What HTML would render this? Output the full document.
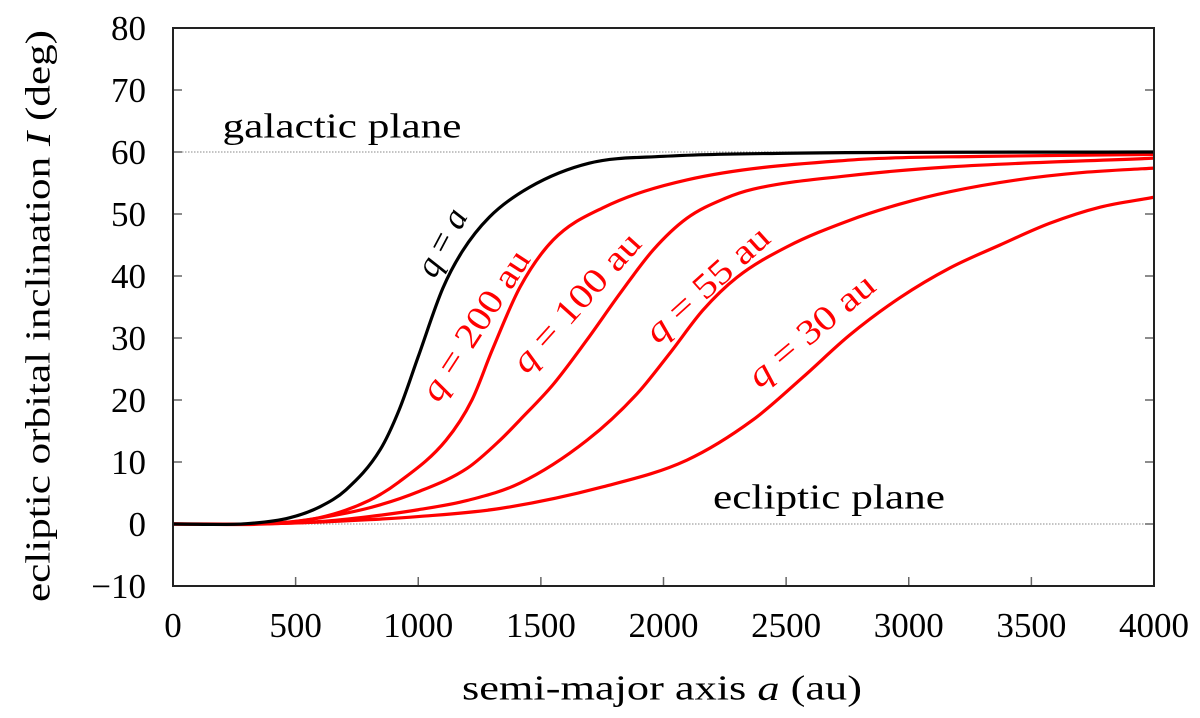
<!DOCTYPE html>
<html><head><meta charset="utf-8"><style>
body{margin:0;background:#fff}
svg text{font-family:"Liberation Serif",serif;font-size:35px}
</style></head><body>
<svg id="c" width="1200" height="713"></svg>
<script>
const xTicks=[0,500,1000,1500,2000,2500,3000,3500,4000];
const yTicks=[-10,0,10,20,30,40,50,60,70,80];
const aBlack=[0,300,475,600,705,845,922,1000,1100,1180,1290,1453,1697,2000,2500,4000];
const iBlack=[0,0.05,1,2.8,5.5,12,18.4,27,38,44,49.5,54.3,58.2,59.3,59.8,60];
const a200=[0,350,595,800,922,1113,1219,1301,1415,1550,1753,2095,2760,3300,4000];
const i200=[0,0.05,1,3.8,6.8,13.5,20,28,38.2,45.8,51,55.5,58.7,59.3,59.6];
const a100=[0,400,600,800,1000,1200,1333,1415,1550,1688,1823,1958,2095,2250,2365,2760,3168,4000];
const i100=[0,0.05,1,2.6,5.2,9,13.5,16.8,22.5,29.7,37.2,44.2,49.3,52.5,54,56.2,57.6,59];
const a55=[0,400,600,800,1000,1200,1415,1688,1892,2027,2161,2300,2503,2760,2964,3168,3441,3711,4000];
const i55=[0,0.05,0.4,1.2,2.3,3.8,6.6,13.5,21,27.6,34.5,39.8,44.7,49,51.6,53.6,55.5,56.7,57.4];
const a30=[0,400,800,1000,1333,1753,2095,2365,2569,2760,2964,3168,3372,3575,3780,4000];
const i30=[0,0.05,0.7,1.2,2.5,6,10.3,16.8,23.7,30.5,36.5,41.3,45,48.5,51.1,52.7];
const L=173,R=1154,T=28,B=586;
const X=v=>L+(v/4000)*(R-L);
const Y=v=>B-(v+10)/90*(B-T);
const NS="http://www.w3.org/2000/svg";
const svg=document.getElementById('c');
function mk(t,at){const e=document.createElementNS(NS,t);for(const k in at)e.setAttribute(k,at[k]);svg.appendChild(e);return e;}
let g=mk('line',{x1:L,x2:R,y1:Y(60),y2:Y(60),stroke:'#888','stroke-width':1,'stroke-dasharray':'1.5,1.5'});


g=mk('line',{x1:L,x2:R,y1:Y(0),y2:Y(0),stroke:'#888','stroke-width':1,'stroke-dasharray':'1.5,1.5'});


xTicks.forEach(v=>{
  let t=mk('line',{x1:X(v),x2:X(v),y1:B,y2:B-9,stroke:'#666','stroke-width':1.5});
  
  
  let l=mk('text',{x:X(v),y:B+51,'text-anchor':'middle'});l.textContent=v;
  
  
});
yTicks.forEach(v=>{
  let t=mk('line',{x1:L,x2:L+9,y1:Y(v),y2:Y(v),stroke:'#666','stroke-width':1.5});
  
  
  let t2=mk('line',{x1:R,x2:R-9,y1:Y(v),y2:Y(v),stroke:'#666','stroke-width':1.5});
  
  
  let l=mk('text',{x:146,y:Y(v)+12,'text-anchor':'end'});l.textContent=v<0?'\u2212'+(-v):v;
  
  
});
function path(xs,ys,col,name){
  const p=xs.map((a,i)=>[X(a),Y(ys[i])]);
  const n=p.length,dl=[],m=[];
  for(let i=0;i<n-1;i++)dl.push((p[i+1][1]-p[i][1])/(p[i+1][0]-p[i][0]));
  for(let i=0;i<n;i++){
    if(i==0)m.push(dl[0]);else if(i==n-1)m.push(dl[n-2]);
    else m.push(dl[i-1]*dl[i]<=0?0:(dl[i-1]+dl[i])/2);
  }
  let d='M'+p[0][0]+','+p[0][1];
  for(let i=0;i<n-1;i++){
    const h=(p[i+1][0]-p[i][0])/3;
    d+=`C${p[i][0]+h},${p[i][1]+m[i]*h} ${p[i+1][0]-h},${p[i+1][1]-m[i+1]*h} ${p[i+1][0]},${p[i+1][1]}`;
  }
  const e=mk('path',{d:d,fill:'none',stroke:col,'stroke-width':3.2});
  
  
}
path(a30,i30,'#ff0000','curve-q-30');
path(a55,i55,'#ff0000','curve-q-55');
path(a100,i100,'#ff0000','curve-q-100');
path(a200,i200,'#ff0000','curve-q-200');
path(aBlack,iBlack,'#000','curve-q-equals-a');
let fr=mk('rect',{x:L,y:T,width:R-L,height:B-T,fill:'none',stroke:'#222','stroke-width':2});


function lab(txt,x,y,ang,col,name,len,fs){
  const at={x:x,y:y,fill:col,'text-anchor':'middle','dominant-baseline':'central'};
  if(ang)at.transform=`rotate(${ang} ${x} ${y})`;
  if(len){at.textLength=len;at.lengthAdjust='spacingAndGlyphs';}
  if(fs)at['font-size']=fs;
  const e=mk('text',at);
  e.innerHTML=txt;
  
  
}
lab('galactic plane',342,126,0,'#000','galactic-plane-label',239,35);
lab('ecliptic plane',829,497,0,'#000','ecliptic-plane-label',232,35);
lab('<tspan font-style="italic">q</tspan> = <tspan font-style="italic">a</tspan>',441,242,-62,'#000','label-q-equals-a',72,33);
lab('<tspan font-style="italic">q</tspan> = 200 au',475,325,-57,'#ff0000','label-q-200',172,33);
lab('<tspan font-style="italic">q</tspan> = 100 au',576,302,-48,'#ff0000','label-q-100',175,33);
lab('<tspan font-style="italic">q</tspan> = 55 au',707,284,-42,'#ff0000','label-q-55',155,33);
lab('<tspan font-style="italic">q</tspan> = 30 au',811,330,-40,'#ff0000','label-q-30',155,33);
lab('semi-major axis <tspan font-style="italic">a</tspan> (au)',662,688,0,'#000','x-axis-title',400,35);
lab('ecliptic orbital inclination <tspan font-style="italic">I</tspan> (deg)',38,316,-90,'#000','y-axis-title',572,35);
</script>
</body></html>
